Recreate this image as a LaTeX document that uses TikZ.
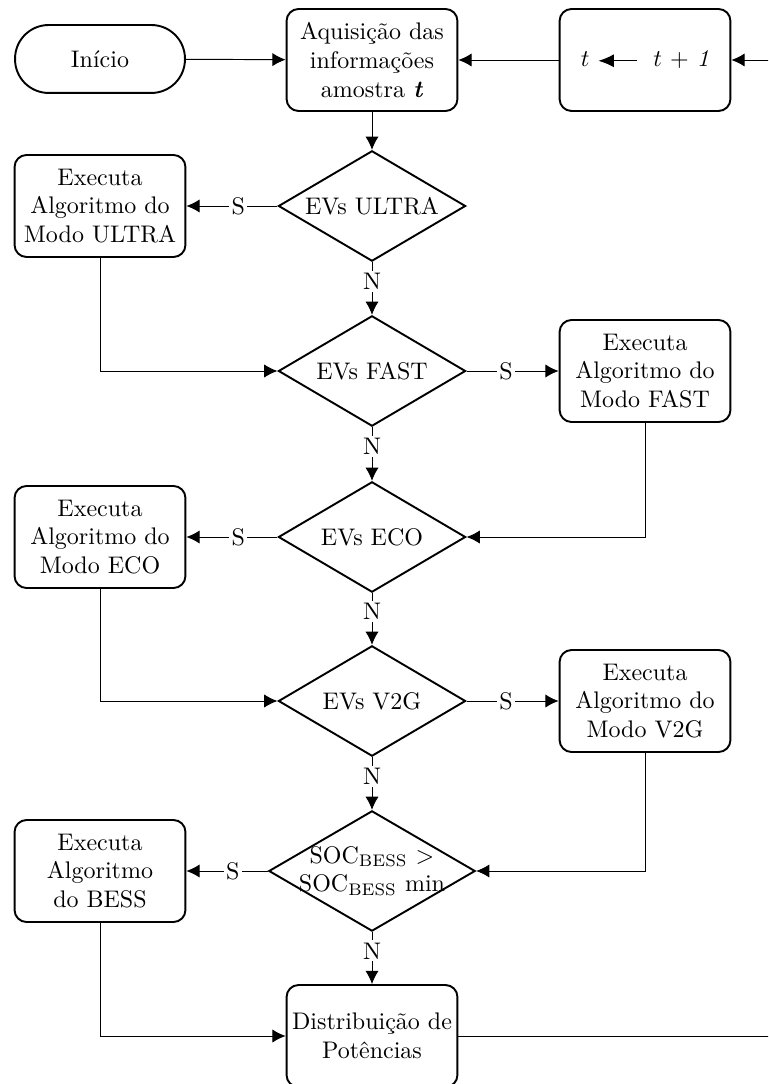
\documentclass[tikz,border=0pt]{standalone}
\usetikzlibrary{shapes.geometric,arrows.meta}
\begin{document}
\begin{tikzpicture}[x=0.41667pt,y=-0.41667pt,
  procbox/.style={draw,line width=0.8pt,rounded corners=5pt,text width=70pt,inner xsep=0.6pt,align=center,minimum height=42.5pt},
  startbox/.style={draw,line width=0.8pt,rectangle,rounded corners=14pt,minimum width=70.8pt,minimum height=28.3pt},
  decision/.style={draw,line width=0.8pt,diamond,aspect=1.7,inner sep=0pt,minimum width=78pt,minimum height=46pt,align=center},
  conn/.style={line width=0.4pt,-{Latex[length=5.5pt,width=5.5pt]}},
  plain/.style={line width=0.4pt},
  lbl/.style={fill=white,inner sep=1pt}]
\useasboundingbox (0,0) rectangle (768,1084);
\clip (0,0) rectangle (768,1084);
\node[startbox] (inicio) at (100,59) {Início};
\node[procbox] (aq) at (372,60) {Aquisição das\\informações\\amostra \textbf{\textit{t}}};
\node[procbox] (tbox) at (645,60) {$t$\ \tikz[baseline=-0.6ex]\draw[line width=0.6pt,{Latex[length=6.5pt,width=5.5pt]}-] (0,0)--(16pt,0);\ \ $t$ + \textit{1}};
\node[decision] (d1) at (372,206) {EVs ULTRA};
\node[procbox] (b1) at (100,206) {Executa\\Algoritmo do\\Modo ULTRA};
\node[decision] (d2) at (372,371) {EVs FAST};
\node[procbox] (b2) at (645,371) {Executa\\Algoritmo do\\Modo FAST};
\node[decision] (d3) at (372,537) {EVs ECO};
\node[procbox] (b3) at (100,537) {Executa\\Algoritmo do\\Modo ECO};
\node[decision] (d4) at (372,701) {EVs V2G};
\node[procbox] (b4) at (645,701) {Executa\\Algoritmo do\\Modo V2G};
\node[decision,minimum width=86pt,minimum height=50pt,inner sep=-2pt] (d5) at (372,871) {SOC\textsubscript{BESS} $>$\\SOC\textsubscript{BESS} min};
\node[procbox] (b5) at (100,871) {Executa\\Algoritmo\\do BESS};
\node[procbox] (dist) at (372,1036) {Distribuição de\\Potências};
\coordinate (loopB) at (800,1036);
\coordinate (loopT) at (800,60);
\draw[conn] (inicio) -- (aq);
\draw[conn] (tbox.west) -- (aq.east);
\draw[conn] (aq) -- (d1);
\draw[conn] (d1.west) -- node[lbl,pos=0.43] {S} (b1.east);
\draw[conn] (d1.south) -- node[lbl,pos=0.36] {N} (d2.north);
\draw[conn] (b1.south) |- (d2.west);
\draw[conn] (d2.east) -- node[lbl,pos=0.43] {S} (b2.west);
\draw[conn] (d2.south) -- node[lbl,pos=0.36] {N} (d3.north);
\draw[conn] (b2.south) |- (d3.east);
\draw[conn] (d3.west) -- node[lbl,pos=0.43] {S} (b3.east);
\draw[conn] (d3.south) -- node[lbl,pos=0.36] {N} (d4.north);
\draw[conn] (b3.south) |- (d4.west);
\draw[conn] (d4.east) -- node[lbl,pos=0.43] {S} (b4.west);
\draw[conn] (d4.south) -- node[lbl,pos=0.36] {N} (d5.north);
\draw[conn] (b4.south) |- (d5.east);
\draw[conn] (d5.west) -- node[lbl,pos=0.43] {S} (b5.east);
\draw[conn] (d5.south) -- node[lbl,pos=0.36] {N} (dist.north);
\draw[conn] (b5.south) |- (dist.west);
\draw[plain] (dist.east) -- (loopB) -- (loopT);
\draw[conn] (loopT) -- (tbox.east);
\end{tikzpicture}
\end{document}
